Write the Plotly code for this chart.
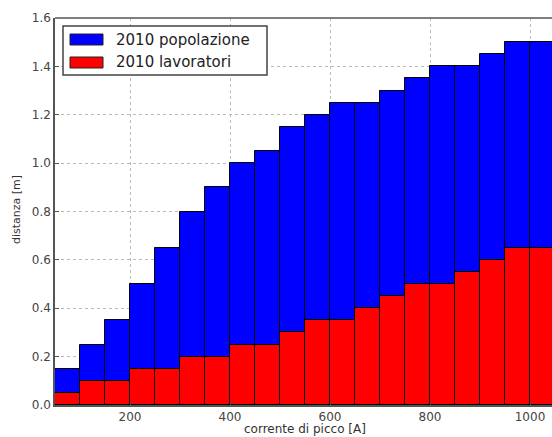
import plotly.graph_objects as go

x_left = [50, 100, 150, 200, 250, 300, 350, 400, 450, 500,
          550, 600, 650, 700, 750, 800, 850, 900, 950, 1000]
popolazione = [0.15, 0.25, 0.35, 0.50, 0.65, 0.80, 0.90, 1.00, 1.05, 1.15,
               1.20, 1.25, 1.25, 1.30, 1.35, 1.40, 1.40, 1.45, 1.50, 1.50]
lavoratori = [0.05, 0.10, 0.10, 0.15, 0.15, 0.20, 0.20, 0.25, 0.25, 0.30,
              0.35, 0.35, 0.40, 0.45, 0.50, 0.50, 0.55, 0.60, 0.65, 0.65]
series_names = ["2010 popolazione", "2010 lavoratori"]
series_colors = ["#0000ff", "#ff0000"]
x_ticks = [200, 400, 600, 800, 1000]
y_ticks = [0.0, 0.2, 0.4, 0.6, 0.8, 1.0, 1.2, 1.4, 1.6]

# plot area in pixels
L, R, T, B = 55, 552, 18, 405
def px(x):
    return (x - L) / (R - L)
def py(y):
    return (B - y) / (B - T)

fig = go.Figure()
for vals, name, col in zip([popolazione, lavoratori], series_names, series_colors):
    fig.add_trace(go.Bar(x=x_left, y=vals, width=50, offset=0, name=name,
                         marker=dict(color=col, line=dict(color="#000000", width=1))))

axis_common = dict(
    showline=True, linecolor="#555555", linewidth=1.5,
    ticks="inside", ticklen=4, tickcolor="#555555",
    showgrid=True, gridcolor="#bbbbbb", griddash="dot", gridwidth=1,
    zeroline=False, tickfont=dict(size=12, color="#444444"),
    automargin=False, mirror=False,
)
fig.update_layout(
    width=552, height=437,
    margin=dict(l=L, r=552 - R, t=T, b=437 - B),
    plot_bgcolor="white", paper_bgcolor="white",
    font=dict(family="DejaVu Sans", color="#333333"),
    barmode="overlay", bargap=0,
    showlegend=False,
    xaxis=dict(range=[50, 1044], tickvals=x_ticks, ticktext=[str(v) for v in x_ticks],
               **axis_common),
    yaxis=dict(range=[0, 1.6], tickvals=y_ticks, ticktext=[f"{v:.1f}" for v in y_ticks],
               **axis_common),
)
# axis titles
fig.add_annotation(text="corrente di picco [A]", xref="paper", yref="paper",
                   x=px(305), y=py(429), xanchor="center", yanchor="middle",
                   showarrow=False, font=dict(size=12, color="#333333"))
fig.add_annotation(text="distanza [m]", xref="paper", yref="paper",
                   x=px(16), y=py(210), xanchor="center", yanchor="middle",
                   textangle=-90, showarrow=False, font=dict(size=11, color="#333333"))
# top spine
fig.add_shape(type="line", xref="paper", yref="paper", x0=0, x1=1, y0=1, y1=1,
              line=dict(color="#555555", width=1.5))
# legend (matplotlib-style)
fig.add_shape(type="rect", xref="paper", yref="paper",
              x0=px(63), x1=px(267), y0=py(26), y1=py(75),
              fillcolor="white", line=dict(color="#444444", width=1.5), layer="above")
for i, (name, col) in enumerate(zip(series_names, series_colors)):
    yc = 39.5 + i * 23
    fig.add_shape(type="rect", xref="paper", yref="paper",
                  x0=px(70), x1=px(103), y0=py(yc - 5.5), y1=py(yc + 5.5),
                  fillcolor=col, line=dict(color="#222222", width=1), layer="above")
    fig.add_annotation(text=name, xref="paper", yref="paper",
                       x=px(114), y=py(yc), xanchor="left", yanchor="middle",
                       showarrow=False, font=dict(size=15, color="#222222"))
fig.write_html("out.html", config={"displayModeBar": False},
               post_script="document.body.style.margin='0';document.body.style.overflow='hidden';")
